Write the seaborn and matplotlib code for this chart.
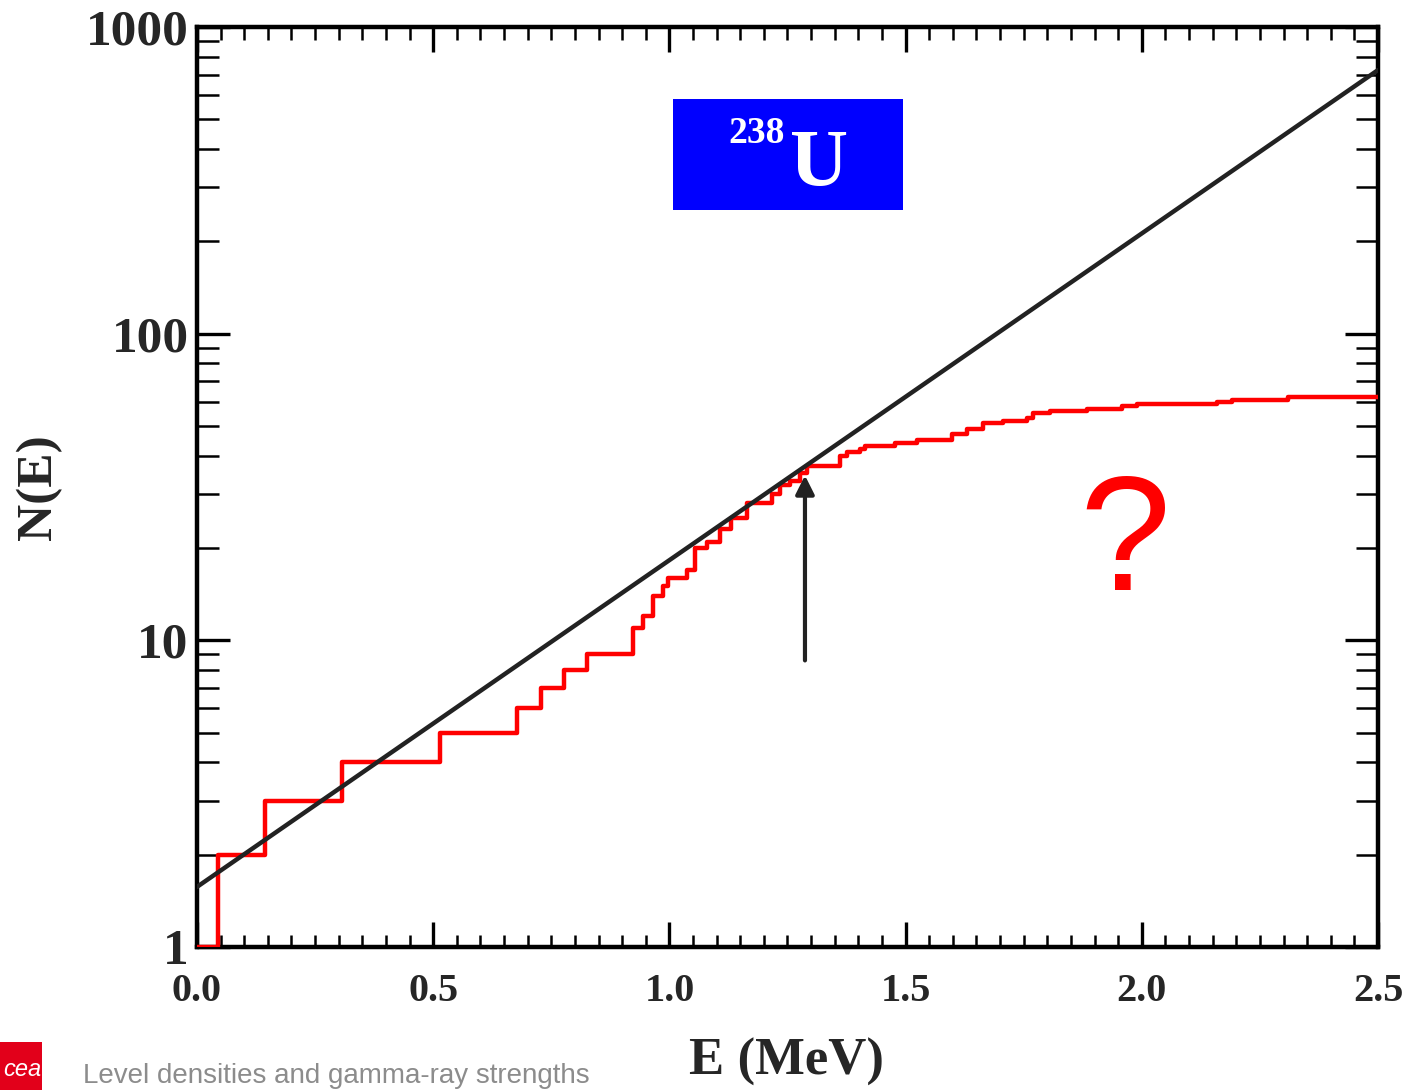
import numpy as np
import pandas as pd
import matplotlib
matplotlib.use('Agg')
import matplotlib.pyplot as plt
from matplotlib.patches import Rectangle
from matplotlib.ticker import MultipleLocator, LogLocator, NullFormatter
import seaborn as sns

# ==========
# cumulative number of levels N(E)
level_E = [0.0, 0.044, 0.144, 0.307, 0.514, 0.677, 0.728, 0.777, 0.826, 0.923,
           0.944, 0.965, 0.986, 0.997, 1.037, 1.054, 1.080, 1.107, 1.130, 1.164,
           1.217, 1.234, 1.255, 1.276, 1.291, 1.361, 1.376, 1.403, 1.414, 1.478,
           1.524, 1.598, 1.630, 1.664, 1.706, 1.757, 1.770, 1.806, 1.884, 1.958,
           1.990, 2.159, 2.191, 2.309, 2.5]
level_N = [1, 2, 3, 4, 5, 6, 7, 8, 9, 11,
           12, 14, 15, 16, 17, 20, 21, 23, 25, 28,
           30, 32, 33, 35, 37, 40, 41, 42, 43, 44,
           45, 47, 49, 51, 52, 53, 55, 56, 57, 58,
           59, 60, 61, 62, 62]
# constant temperature fit (straight line in log scale)
fit_E = [0.0, 2.5]
fit_N = [1.57, 724]
# arrow marking the matching energy
arrow_E = 1.287
arrow_N = [8.6, 34.5]
y_ticks = [1, 10, 100, 1000]
y_labels = ['1', '10', '100', '1000']
x_ticks = [0.0, 0.5, 1.0, 1.5, 2.0, 2.5]
x_labels = ['0.0', '0.5', '1.0', '1.5', '2.0', '2.5']

df_lev = pd.DataFrame({'E': level_E, 'N': level_N})
df_fit = pd.DataFrame({'E': fit_E, 'N': fit_N})

sns.set_style('ticks')
plt.rcParams['font.family'] = ['Liberation Serif', 'DejaVu Serif']
plt.rcParams['font.weight'] = 'bold'

fig = plt.figure(figsize=(14.09, 10.90), dpi=100)
ax = fig.add_axes([0.1398, 0.1312, 0.8382, 0.844])

sns.lineplot(data=df_lev, x='E', y='N', ax=ax, color='#ff0000', lw=3.2,
             drawstyle='steps-post', estimator=None, zorder=3)
sns.lineplot(data=df_fit, x='E', y='N', ax=ax, color='#222222', lw=3.2,
             estimator=None, zorder=4)

ax.annotate('', xy=(arrow_E, arrow_N[1]), xytext=(arrow_E, arrow_N[0]),
            arrowprops=dict(arrowstyle='-|>', color='#222222', lw=3,
                            mutation_scale=28, shrinkA=0, shrinkB=0))

ax.set_yscale('log')
ax.set_xlim(0, 2.5)
ax.set_ylim(1, 1000)
ax.set_yticks(y_ticks, labels=y_labels)
ax.set_xticks(x_ticks, labels=x_labels)
ax.xaxis.set_minor_locator(MultipleLocator(0.05))
ax.yaxis.set_minor_locator(LogLocator(base=10, subs=np.arange(2, 10)))
ax.yaxis.set_minor_formatter(NullFormatter())

for s in ax.spines.values():
    s.set_linewidth(3.2)
    s.set_color('black')
ax.tick_params(which='both', direction='in', top=True, right=True, color='black')
ax.tick_params(axis='y', which='major', length=24, width=2.4, labelsize=37, pad=6)
ax.tick_params(axis='y', which='minor', length=16, width=1.8)
ax.tick_params(axis='x', which='major', length=18, width=2.4, labelsize=29, pad=19)
ax.tick_params(axis='x', which='minor', length=9, width=1.8)
for lab in ax.get_xticklabels() + ax.get_yticklabels():
    lab.set_fontweight('bold')

ax.set_xlabel('')
ax.set_ylabel('')
fig.text(0.5585, 0.026, 'E (MeV)', fontsize=38, fontweight='bold', ha='center', va='center')
fig.text(0.028, 0.553, 'N(E)', fontsize=37, fontweight='bold', ha='center', va='center',
         rotation=90)

# label box
fig.patches.append(Rectangle((0.4776, 0.8073), 0.1633, 0.1019, transform=fig.transFigure,
                             facecolor='#0000ff', edgecolor='none', zorder=5))
fig.text(0.5167, 0.8688, '238', fontsize=27, fontweight='bold', color='white',
         ha='left', va='baseline', zorder=6)
fig.text(0.5607, 0.8303, 'U', fontsize=58, fontweight='bold', color='white',
         ha='left', va='baseline', zorder=6)

fig.text(0.7984, 0.4587, '?', fontsize=118, color='#ff0000', ha='center', va='baseline',
         family=['Liberation Sans', 'DejaVu Sans'], fontweight='normal')

# footer
fig.patches.append(Rectangle((0.0, 0.0), 0.03, 0.044, transform=fig.transFigure,
                             facecolor='#e2001a', edgecolor='none'))
fig.text(0.002, 0.013, 'cea', fontsize=17, color='white', style='italic',
         family=['Liberation Sans', 'DejaVu Sans'], fontweight='normal')
fig.text(0.0589, 0.006, 'Level densities and gamma-ray strengths', fontsize=20,
         color='#8c8c8c', family=['Liberation Sans', 'DejaVu Sans'], fontweight='normal')

fig.savefig('out.png', dpi=100)
